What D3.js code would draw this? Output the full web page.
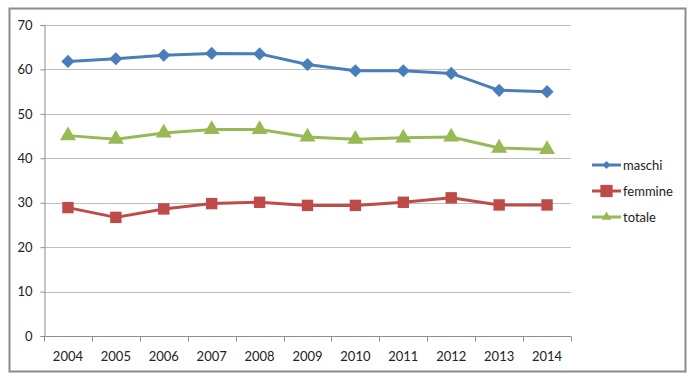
<!DOCTYPE html>
<html>
<head>
<meta charset="utf-8">
<script src="https://cdn.jsdelivr.net/npm/d3@7"></script>
<style>
  html, body { margin: 0; padding: 0; background: #fff; }
  svg { display: block; font-family: Lato, "Open Sans", sans-serif; }
</style>
</head>
<body>
<div id="chart"></div>
<script>
const years = ['2004','2005','2006','2007','2008','2009','2010','2011','2012','2013','2014'];
const maschi  = [61.8, 62.4, 63.2, 63.6, 63.5, 61.1, 59.7, 59.7, 59.1, 55.3, 55.0];
const femmine = [28.9, 26.7, 28.6, 29.8, 30.1, 29.4, 29.4, 30.1, 31.1, 29.5, 29.5];
const totale  = [45.1, 44.3, 45.7, 46.5, 46.5, 44.8, 44.3, 44.6, 44.8, 42.3, 42.0];
const yTicks = [0, 10, 20, 30, 40, 50, 60, 70];

const series = [
  { name: 'maschi', values: maschi, color: '#4A7EBB', marker: 'diamond' },
  { name: 'femmine', values: femmine, color: '#BE4B48', marker: 'square' },
  { name: 'totale', values: totale, color: '#98B954', marker: 'triangle' }
];

const width = 700, height = 379;
const plot = { left: 44, right: 571, top: 25, bottom: 336 };

const svg = d3.select('#chart').append('svg')
  .attr('width', width)
  .attr('height', height);

// outer frame
svg.append('rect')
  .attr('x', 9.5).attr('y', 8.5)
  .attr('width', 676).attr('height', 363)
  .attr('fill', '#fff')
  .attr('stroke', '#8c8c8c')
  .attr('stroke-width', 2);

const x = d3.scaleBand()
  .domain(years)
  .range([plot.left, plot.right]);

const y = d3.scaleLinear()
  .domain([0, 70])
  .range([plot.bottom, plot.top]);

// gridlines
svg.append('g')
  .selectAll('line')
  .data(yTicks.filter(d => d > 0))
  .join('line')
  .attr('x1', plot.left).attr('x2', plot.right)
  .attr('y1', d => Math.round(y(d)) + 0.5)
  .attr('y2', d => Math.round(y(d)) + 0.5)
  .attr('stroke', '#bfbfbf')
  .attr('stroke-width', 1);

// y axis
const yAxis = svg.append('g')
  .attr('transform', `translate(${plot.left + 0.5},0)`)
  .call(d3.axisLeft(y).tickValues(yTicks).tickSize(4).tickPadding(8));
yAxis.select('.domain').attr('stroke', '#8c8c8c');
yAxis.selectAll('.tick line').attr('stroke', '#8c8c8c');
yAxis.selectAll('.tick text')
  .attr('font-size', 13)
  .attr('fill', '#222')
  .attr('font-family', 'Lato, sans-serif');

// x axis: ticks between categories
const xAxis = svg.append('g')
  .attr('transform', `translate(0,${plot.bottom + 0.5})`);
xAxis.append('line')
  .attr('x1', plot.left).attr('x2', plot.right)
  .attr('stroke', '#8c8c8c');
const boundaries = years.map(d => x(d)).concat([x(years[years.length - 1]) + x.bandwidth()]);
xAxis.selectAll('line.tk')
  .data(boundaries)
  .join('line')
  .attr('class', 'tk')
  .attr('x1', d => Math.round(d) + 0.5).attr('x2', d => Math.round(d) + 0.5)
  .attr('y1', 0).attr('y2', 5)
  .attr('stroke', '#8c8c8c');
xAxis.selectAll('text')
  .data(years)
  .join('text')
  .attr('x', d => x(d) + x.bandwidth() / 2)
  .attr('y', 24)
  .attr('text-anchor', 'middle')
  .attr('font-size', 13)
  .attr('fill', '#222')
  .text(d => d);

const cx = d => x(d) + x.bandwidth() / 2;

const line = d3.line()
  .x((d, i) => cx(years[i]))
  .y(d => y(d));

const symbols = {
  diamond: d3.symbol().type(d3.symbolDiamond2).size(110),
  square: d3.symbol().type(d3.symbolSquare).size(130),
  triangle: d3.symbol().type(d3.symbolTriangle).size(110)
};
const smallSymbols = {
  diamond: d3.symbol().type(d3.symbolDiamond2).size(40),
  square: d3.symbol().type(d3.symbolSquare).size(150),
  triangle: d3.symbol().type(d3.symbolTriangle).size(40)
};

series.forEach(s => {
  const g = svg.append('g');
  g.append('path')
    .attr('d', line(s.values))
    .attr('fill', 'none')
    .attr('stroke', s.color)
    .attr('stroke-width', 3)
    .attr('stroke-linejoin', 'round');
  g.selectAll('path.mk')
    .data(s.values)
    .join('path')
    .attr('class', 'mk')
    .attr('transform', (d, i) => `translate(${cx(years[i])},${y(d)})`)
    .attr('d', symbols[s.marker])
    .attr('fill', s.color);
});

// legend
const legend = svg.append('g')
  .attr('transform', 'translate(592,165)');
const item = legend.selectAll('g')
  .data(series)
  .join('g')
  .attr('transform', (d, i) => `translate(0,${i * 26})`);
item.append('line')
  .attr('x1', 0).attr('x2', 29)
  .attr('stroke', d => d.color)
  .attr('stroke-width', 3);
item.append('path')
  .attr('transform', 'translate(14.5,0)')
  .attr('d', d => smallSymbols[d.marker]())
  .attr('fill', d => d.color);
item.append('text')
  .attr('x', 31)
  .attr('y', 5)
  .attr('font-size', 13)
  .attr('fill', '#222')
  .text(d => d.name);
</script>
</body>
</html>
